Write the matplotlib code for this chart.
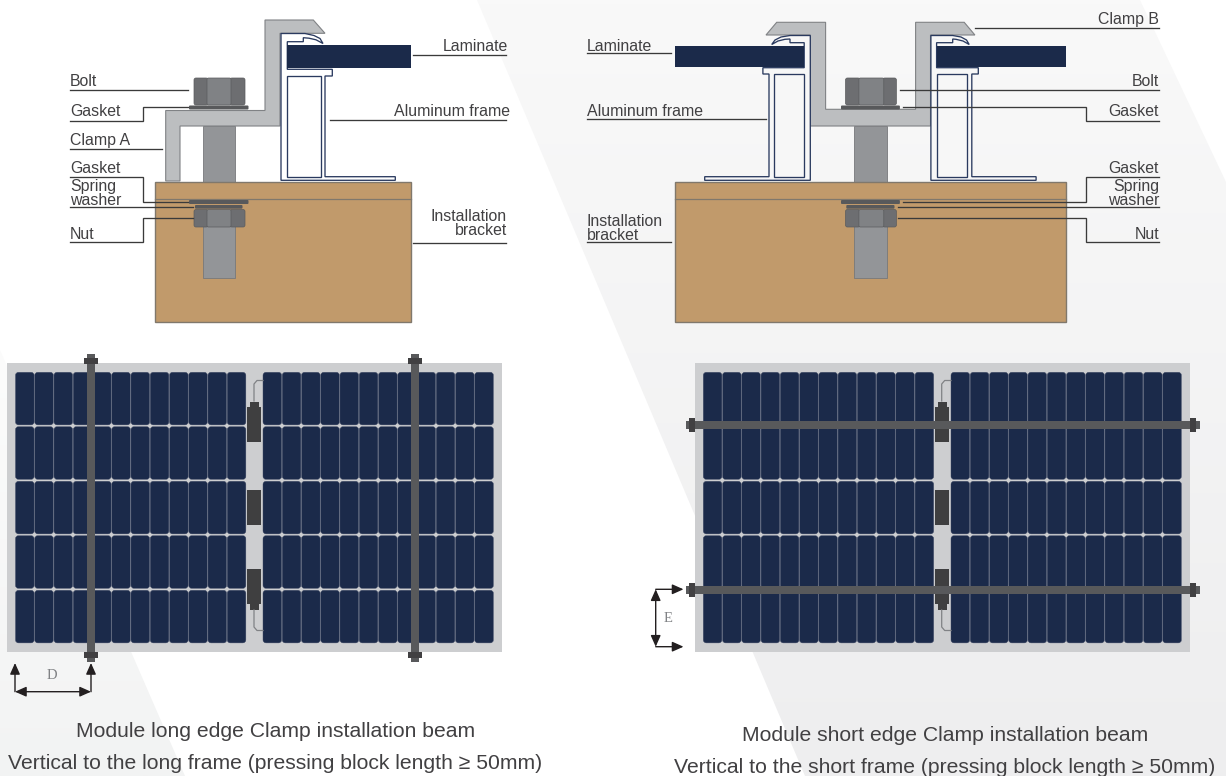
import numpy as np
import matplotlib
matplotlib.use("Agg")
import matplotlib.pyplot as plt
from matplotlib.patches import Polygon, Rectangle, FancyBboxPatch

plt.rcParams['font.family'] = ['Liberation Sans', 'DejaVu Sans']

# -----------------------------
# Text
# -----------------------------
left_labels = ["Bolt", "Gasket", "Clamp A", "Gasket", "Spring", "washer", "Nut"]
left_label_y = [86.5, 116, 145, 173, 191, 204.7, 239]
left_right_labels = ["Laminate", "Aluminum frame", "Installation", "bracket"]
left_right_x = [508, 510, 506.5, 507]
left_right_y = [51, 116, 221, 235]

right_labels = ["Clamp B", "Bolt", "Gasket", "Gasket", "Spring", "washer", "Nut"]
right_label_y = [24, 86.5, 116, 173, 191, 204.7, 239]
right_left_labels = ["Laminate", "Aluminum frame", "Installation", "bracket"]
right_left_y = [51, 116, 225.5, 240]

caption_left = ["Module long edge Clamp installation beam",
                "Vertical to the long frame (pressing block length \u2265 50mm)"]
caption_right = ["Module short edge Clamp installation beam",
                 "Vertical to the short frame (pressing block length \u2265 50mm)"]

# -----------------------------
# Cross sections
# -----------------------------
clamp_a = [(165.7, 181), (165.7, 110.5), (265, 110.5), (265, 20), (313.3, 20), (325, 33.3),
           (280, 33.3), (280, 126), (180, 126), (180, 181)]
clamp_b = [(766, 35), (776.7, 22.3), (825.6, 22.3), (825.6, 109.3), (915.6, 109.3), (915.6, 22.3),
           (964.2, 22.3), (974.9, 35), (930.5, 35), (930.5, 126), (810.3, 126), (810.3, 35)]

frame_a = [(281, 180.3), (281, 33.5), (305, 33.5), (314, 35.5), (320, 38.5), (323, 43.5), (316, 39.8),
           (309, 38.2), (303.3, 37.7), (303.3, 41.7), (287.3, 41.7), (287.3, 69.3), (332.3, 69.3),
           (332.3, 76), (325, 76), (325, 176.7), (395.3, 176.7), (395.3, 180.3)]
chamber_a = (287.3, 75.7, 320.7, 176.7)
frame_b1 = [(810.3, 180.3), (810.3, 35.5), (790, 35.5), (781, 37), (775, 40), (771.7, 44.5), (778, 41),
            (785, 39.3), (790, 39), (790, 42.7), (804.2, 42.7), (804.2, 67.7), (762.9, 67.7),
            (762.9, 74), (769, 74), (769, 176.7), (704.7, 176.7), (704.7, 180.3)]
chamber_b1 = (773.6, 74, 804.2, 176.7)
frame_b2 = [(930.9, 180.3), (930.9, 35.5), (952.7, 35.5), (961, 37), (966.5, 40), (969.2, 44.5), (963, 41),
            (956, 39.3), (952.7, 39), (952.7, 42.7), (936.6, 42.7), (936.6, 67.7), (978.3, 67.7),
            (978.3, 74), (971.8, 74), (971.8, 176.7), (1036.1, 176.7), (1036.1, 180.3)]
chamber_b2 = (936.6, 74, 966.9, 176.7)

laminates = [(287.3, 45, 411, 68), (674.9, 46, 804.2, 67), (936.6, 46, 1066, 67)]

# -----------------------------
# Leader lines
# -----------------------------
leaders = [
    [(70, 90), (188, 90)],
    [(70, 120.5), (143, 120.5), (143, 107), (188, 107)],
    [(70, 148.5), (161.5, 148.5)],
    [(70, 177), (143, 177), (143, 202), (188, 202)],
    [(70, 207), (193, 207)],
    [(70, 242), (143, 242), (143, 218), (193, 218)],
    [(413, 54.5), (506, 54.5)],
    [(330, 120), (506, 120)],
    [(413, 242.5), (506, 242.5)],
    [(974.9, 27.7), (1158.6, 27.7)],
    [(899.9, 90), (1158.6, 90)],
    [(903, 107), (1086, 107), (1086, 120.5), (1158.6, 120.5)],
    [(903, 202), (1086, 202), (1086, 177), (1158.6, 177)],
    [(898, 207), (1158.6, 207)],
    [(898.4, 218), (1086, 218), (1086, 242), (1158.6, 242)],
    [(587, 53.3), (671, 53.3)],
    [(587, 119), (766, 119)],
    [(587, 242), (671, 242)],
]

# -----------------------------
# Modules
# -----------------------------
n_cols = 12
n_rows = 5
row_tops = [372.3, 426.7, 481.3, 535.7, 590.3]
cell_h = 52.6
col_pitch = 19.25
cell_w = 18.6
block_x_long = [15.5, 263]
block_x_short = [703.3, 951]
box_ys = [(406.7, 441.7), (490, 525), (569, 604.3)]

colors = dict(bracket='#c19a6b', bracket_edge='#80786c', steel='#939598', steel_edge='#77787b',
              clamp='#bcbec0', clamp_edge='#808285', navy='#1b2a4a', nut_dark='#6d6e71',
              nut_mid='#808285', washer='#58595b', panel='#cdced0', beam='#58595b',
              cap='#414042', box='#3f3f40', text='#414042', line='#3a3a3a')

fig = plt.figure(figsize=(12.26, 7.76), dpi=100)
ax = fig.add_axes([0, 0, 1, 1])
ax.set_xlim(0, 1226)
ax.set_ylim(776, 0)
ax.axis('off')


def rect(x0, y0, x1, y1, **kw):
    kw.setdefault('lw', 0)
    ax.add_patch(Rectangle((x0, y0), x1 - x0, y1 - y0, **kw))


def rrect(x0, y0, x1, y1, r, **kw):
    kw.setdefault('lw', 0)
    ax.add_patch(FancyBboxPatch((x0, y0), x1 - x0, y1 - y0,
                                boxstyle="round,pad=0,rounding_size=%s" % r, **kw))


def gradient_poly(pts, top, bottom, y0, y1):
    c0 = np.array(matplotlib.colors.to_rgb(top))
    c1 = np.array(matplotlib.colors.to_rgb(bottom))
    t = np.linspace(0, 1, 200)[:, None, None]
    img = c0[None, None, :] * (1 - t) + c1[None, None, :] * t
    im = ax.imshow(img, extent=(0, 1226, y1, y0), aspect='auto', zorder=0)
    patch = Polygon(pts, closed=True, transform=ax.transData, fc='none', lw=0)
    ax.add_patch(patch)
    im.set_clip_path(patch)


# background shapes
gradient_poly([(477, 0), (1140, 0), (1226, 182), (1226, 776), (805, 776)], '#f9f9f9', '#eeeeef', 0, 776)
gradient_poly([(0, 350), (185, 776), (0, 776)], '#fcfcfc', '#f2f3f3', 350, 776)
ax.set_xlim(0, 1226)
ax.set_ylim(776, 0)


def hex_nut(x0, x1, x2, x3, y0, y1):
    rrect(x0, y0, x1 + 1, y1, 2, fc=colors['nut_dark'], ec='#5a5b5d', lw=0.5, zorder=5)
    rrect(x2 - 1, y0, x3, y1, 2, fc=colors['nut_dark'], ec='#5a5b5d', lw=0.5, zorder=5)
    rrect(x1, y0, x2, y1, 1.5, fc=colors['nut_mid'], ec='#5a5b5d', lw=0.5, zorder=5)


def section(bx0, bx1, sx0, sx1, nx, gx, wx):
    # bolt shaft, hidden inside the top of the bracket
    rect(sx0, 126, sx1, 182, fc=colors['steel'], ec=colors['steel_edge'], lw=0.6, zorder=2)
    rect(bx0, 181.5, bx1, 322, fc=colors['bracket'], ec=colors['bracket_edge'], lw=1, zorder=3)
    ax.plot([bx0, bx1], [199, 199], color=colors['bracket_edge'], lw=0.9, zorder=3)
    rect(sx0, 212, sx1, 278, fc=colors['steel'], ec=colors['steel_edge'], lw=0.6, zorder=4)
    rrect(gx[0], 105.5, gx[1], 109.5, 1, fc=colors['washer'], zorder=5)
    rrect(gx[0], 200, gx[1], 204, 1, fc=colors['washer'], zorder=5)
    rrect(wx[0], 205, wx[1], 208.7, 1, fc=colors['washer'], zorder=5)
    hex_nut(nx[0], nx[1], nx[2], nx[3], 78, 105)
    hex_nut(nx[0], nx[1], nx[2], nx[3], 209.5, 227)


section(154.5, 410.5, 202.5, 234.5, (194, 207, 231, 245), (189, 248.5), (195, 242.5))
section(675.2, 1065.6, 854.3, 886.5, (845.5, 858.9, 883.8, 896.4), (841, 899.9), (846.3, 894.5))

for pts in (clamp_a, clamp_b):
    ax.add_patch(Polygon(pts, closed=True, fc=colors['clamp'], ec=colors['clamp_edge'], lw=0.8, zorder=4))

for pts, ch, fill in ((frame_a, chamber_a, 'white'), (frame_b1, chamber_b1, '#f7f7f7'),
                      (frame_b2, chamber_b2, '#f7f7f7')):
    ax.add_patch(Polygon(pts, closed=True, fc=fill, ec='#2a3a5f', lw=0.95, zorder=5))
    rect(ch[0], ch[1], ch[2], ch[3], fc=fill, ec='#2a3a5f', lw=0.95, zorder=6)

for lam in laminates:
    rect(lam[0], lam[1], lam[2], lam[3], fc=colors['navy'], zorder=6)

for seg in leaders:
    xs, ys = zip(*seg)
    ax.plot(xs, ys, color=colors['line'], lw=0.95, zorder=7, solid_joinstyle='miter')

# labels
for txt, y in zip(left_labels, left_label_y):
    ax.text(70, y, txt, fontsize=11.4, color=colors['text'], va='baseline', ha='left', zorder=8)
for txt, x, y in zip(left_right_labels, left_right_x, left_right_y):
    ax.text(x, y, txt, fontsize=11.4, color=colors['text'], va='baseline', ha='right', zorder=8)
for txt, y in zip(right_labels, right_label_y):
    ax.text(1159, y, txt, fontsize=11.4, color=colors['text'], va='baseline', ha='right', zorder=8)
for txt, y in zip(right_left_labels, right_left_y):
    ax.text(587, y, txt, fontsize=11.4, color=colors['text'], va='baseline', ha='left', zorder=8)


def module(panel, block_x, box_x, tip_x, wire_x):
    rect(panel[0], panel[1], panel[2], panel[3], fc=colors['panel'], zorder=1)
    for bx in block_x:
        for r in range(n_rows):
            for c in range(n_cols):
                x = bx + c * col_pitch
                rrect(x, row_tops[r], x + cell_w, row_tops[r] + cell_h, 3,
                      fc=colors['navy'], ec='#3f4a66', lw=0.3, zorder=2)
    for (y0, y1) in box_ys:
        rect(box_x[0], y0, box_x[1], y1, fc=colors['box'], zorder=3)
    rect(tip_x[0], 401.7, tip_x[1], 407, fc=colors['box'], zorder=3)
    rect(tip_x[0], 604, tip_x[1], 610, fc=colors['box'], zorder=3)
    end_x = block_x[1]
    ax.plot([wire_x, wire_x, wire_x + 3, end_x], [401, 384, 380.5, 380.5], color='#808285', lw=0.9, zorder=3)
    ax.plot([wire_x, wire_x, wire_x + 3, end_x], [610, 627, 630.5, 630.5], color='#808285', lw=0.9, zorder=3)


module((7, 363.3, 502, 651.7), block_x_long, (247, 261), (250, 259), 254)
module((694.7, 363.3, 1190, 652.3), block_x_short, (935, 949), (938, 947), 941.7)

# vertical beams on the long-edge module
for cx in (91, 415):
    rect(cx - 4, 360, cx + 4, 655, fc=colors['beam'], zorder=4)
    rect(cx - 4, 354, cx + 4, 360, fc=colors['beam'], zorder=4)
    rect(cx - 7, 357.7, cx + 7, 364, fc=colors['cap'], zorder=5)
    rect(cx - 7, 651.7, cx + 7, 657.7, fc=colors['cap'], zorder=5)
    rect(cx - 4, 657.7, cx + 4, 661.7, fc=colors['beam'], zorder=4)

# horizontal beams on the short-edge module
for cy in (425, 590):
    rect(695, cy - 4, 1190, cy + 4, fc=colors['beam'], zorder=4)
    rect(686, cy - 4, 689, cy + 4, fc=colors['beam'], zorder=4)
    rect(689, cy - 7, 695, cy + 7, fc=colors['cap'], zorder=5)
    rect(1190, cy - 7, 1196, cy + 7, fc=colors['cap'], zorder=5)
    rect(1196, cy - 4, 1199.5, cy + 4, fc=colors['beam'], zorder=4)


def arrow(start, end, style='-|>'):
    ax.annotate('', xy=end, xytext=start,
                arrowprops=dict(arrowstyle=style + ',head_length=0.45,head_width=0.2', color='#231f20',
                                lw=1.0, shrinkA=0, shrinkB=0, mutation_scale=15), zorder=6)


# dimension D
arrow((15, 691.7), (15, 663))
arrow((91, 691.7), (91, 663))
arrow((15, 691.7), (91, 691.7), '<|-|>')
ax.text(52, 675.7, "D", family='Liberation Serif', fontsize=10.5, color='#808285', ha='center', va='center')

# dimension E
arrow((655.7, 589.3), (683.5, 589.3))
arrow((655.7, 646.7), (683.5, 646.7))
arrow((655.7, 589.3), (655.7, 646.7), '<|-|>')
ax.text(668.3, 619, "E", family='Liberation Serif', fontsize=10.5, color='#808285', ha='center', va='center')

# captions
ax.text(275.5, 737.3, caption_left[0], fontsize=15.25, color=colors['text'], ha='center', va='baseline')
ax.text(275.5, 769.3, caption_left[1], fontsize=15.25, color=colors['text'], ha='center', va='baseline')
ax.text(945, 741, caption_right[0], fontsize=15.25, color=colors['text'], ha='center', va='baseline')
ax.text(945, 773, caption_right[1], fontsize=15.25, color=colors['text'], ha='center', va='baseline')

fig.savefig("out.png", dpi=100)
